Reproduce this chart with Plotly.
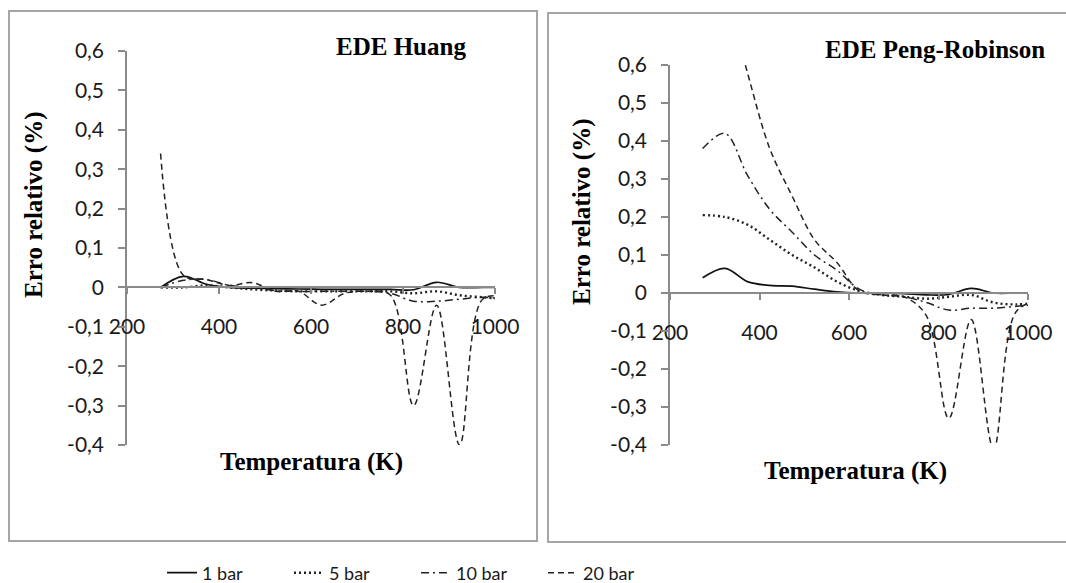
import plotly.graph_objects as go

# ---------------- data ----------------
temperature = [273, 323, 373, 423, 473, 523, 573, 623, 673, 723, 773, 823, 873, 923, 973, 1023]

huang_1bar = [0.000, 0.028, 0.008, 0.000, -0.002, -0.003, -0.004, -0.005, -0.005, -0.005, -0.005, -0.006, 0.013, 0.000, 0.000, 0.000]
huang_5bar = [0.000, 0.000, 0.005, 0.000, -0.005, -0.008, -0.010, -0.010, -0.010, -0.010, -0.010, -0.015, -0.010, -0.020, -0.025, -0.030]
huang_10bar = [0.000, 0.018, 0.020, 0.005, 0.000, -0.008, -0.010, -0.010, -0.010, -0.010, -0.015, -0.035, -0.035, -0.030, -0.025, -0.030]
huang_20bar = [0.340, 0.030, 0.020, 0.005, 0.012, -0.010, -0.010, -0.045, -0.015, -0.010, -0.020, -0.300, -0.045, -0.400, -0.030, -0.025]

pr_1bar = [0.040, 0.065, 0.030, 0.020, 0.018, 0.010, 0.003, 0.000, 0.000, -0.002, -0.005, -0.004, 0.012, 0.000, 0.000, 0.000]
pr_5bar = [0.205, 0.200, 0.180, 0.140, 0.100, 0.067, 0.030, 0.005, -0.005, -0.010, -0.015, -0.010, -0.005, -0.025, -0.030, -0.025]
pr_10bar = [0.380, 0.420, 0.310, 0.220, 0.160, 0.100, 0.060, 0.010, -0.005, -0.010, -0.025, -0.045, -0.040, -0.040, -0.035, -0.030]
pr_20bar = [0.950, 0.800, 0.580, 0.380, 0.255, 0.140, 0.080, 0.005, -0.005, -0.010, -0.060, -0.330, -0.070, -0.410, -0.050, -0.020]

series_names = ["1 bar", "5 bar", "10 bar", "20 bar"]

x_tickvals = [200, 400, 600, 800, 1000]
x_ticktext = ["200", "400", "600", "800", "1000"]
y_tickvals = [-0.4, -0.3, -0.2, -0.1, 0, 0.1, 0.2, 0.3, 0.4, 0.5, 0.6]
y_ticktext = ["-0,4", "-0,3", "-0,2", "-0,1", "0", "0,1", "0,2", "0,3", "0,4", "0,5", "0,6"]

panel_titles = ["EDE Huang", "EDE Peng-Robinson"]
x_title = "Temperatura (K)"
y_title = "Erro relativo (%)"

# ---------------- styling ----------------
W, H = 1066, 583
X_RANGE = [200, 1000]
Y_RANGE = [-0.4, 0.6]

def px_x(p):
    return p / W

def px_y(p):
    return 1 - p / H

line_styles = [
    dict(color="#111111", width=1.7, dash="solid"),
    dict(color="#222222", width=2.4, dash="2px,3px"),
    dict(color="#222222", width=1.5, dash="8px,4px,2px,4px"),
    dict(color="#222222", width=1.5, dash="6px,4px"),
]

fig = go.Figure()

huang = [huang_1bar, huang_5bar, huang_10bar, huang_20bar]
pr = [pr_1bar, pr_5bar, pr_10bar, pr_20bar]

for i, (name, vals) in enumerate(zip(series_names, huang)):
    fig.add_trace(go.Scatter(x=temperature, y=vals, name=name, mode="lines",
                             line=dict(shape="spline", smoothing=1.0, **line_styles[i]),
                             xaxis="x", yaxis="y", legendgroup=name, showlegend=True))
for i, (name, vals) in enumerate(zip(series_names, pr)):
    fig.add_trace(go.Scatter(x=temperature, y=vals, name=name, mode="lines",
                             line=dict(shape="spline", smoothing=1.0, **line_styles[i]),
                             xaxis="x2", yaxis="y2", legendgroup=name, showlegend=False))

axis_color = "#8a8a8a"
tick_font = dict(family="Lato", size=21, color="#1a1a1a")

def xaxis_cfg(domain, ydomain):
    frac = (0 - Y_RANGE[0]) / (Y_RANGE[1] - Y_RANGE[0])
    pos = ydomain[0] + frac * (ydomain[1] - ydomain[0])
    return dict(domain=domain, range=X_RANGE, anchor="free", position=pos,
                showline=True, linecolor=axis_color, linewidth=1.5,
                ticks="outside", ticklen=6, tickcolor=axis_color, tickwidth=1.5,
                tickvals=x_tickvals, ticktext=x_ticktext, tickfont=tick_font,
                ticklabelstandoff=15, showgrid=False, zeroline=False, fixedrange=True)

def yaxis_cfg(domain, anchor):
    return dict(domain=domain, range=Y_RANGE, anchor=anchor,
                showline=True, linecolor=axis_color, linewidth=1.5,
                ticks="outside", ticklen=7, tickcolor=axis_color, tickwidth=1.5,
                tickvals=y_tickvals, ticktext=y_ticktext, tickfont=tick_font,
                ticklabelstandoff=10, showgrid=False, zeroline=False, fixedrange=True)

yd1 = [px_y(445), px_y(51)]
yd2 = [px_y(445), px_y(65)]
xd1 = [px_x(127), px_x(495)]
xd2 = [px_x(670), px_x(1028)]

title_font = dict(family="Liberation Serif", size=25, color="#000000")

annotations = [
    dict(text="<b>%s</b>" % panel_titles[0], x=px_x(401), y=px_y(46), xref="paper", yref="paper",
         showarrow=False, font=title_font, xanchor="center", yanchor="middle"),
    dict(text="<b>%s</b>" % panel_titles[1], x=px_x(935), y=px_y(50), xref="paper", yref="paper",
         showarrow=False, font=title_font, xanchor="center", yanchor="middle"),
    dict(text="<b>%s</b>" % x_title, x=px_x(311), y=px_y(462), xref="paper", yref="paper",
         showarrow=False, font=title_font, xanchor="center", yanchor="middle"),
    dict(text="<b>%s</b>" % x_title, x=px_x(855), y=px_y(471), xref="paper", yref="paper",
         showarrow=False, font=title_font, xanchor="center", yanchor="middle"),
    dict(text="<b>%s</b>" % y_title, x=px_x(34), y=px_y(205), xref="paper", yref="paper",
         showarrow=False, font=title_font, textangle=-90, xanchor="center", yanchor="middle"),
    dict(text="<b>%s</b>" % y_title, x=px_x(582), y=px_y(212), xref="paper", yref="paper",
         showarrow=False, font=title_font, textangle=-90, xanchor="center", yanchor="middle"),
]

box_color = "#a6a6a6"
shapes = [
    dict(type="rect", xref="paper", yref="paper", x0=px_x(9), x1=px_x(537), y0=px_y(541), y1=px_y(11),
         line=dict(color=box_color, width=2), fillcolor="rgba(0,0,0,0)", layer="below"),
    dict(type="rect", xref="paper", yref="paper", x0=px_x(548), x1=px_x(1075), y0=px_y(542), y1=px_y(13),
         line=dict(color=box_color, width=2), fillcolor="rgba(0,0,0,0)", layer="below"),
]

fig.update_layout(
    width=W, height=H,
    margin=dict(l=0, r=0, t=0, b=0, autoexpand=False),
    paper_bgcolor="white", plot_bgcolor="white",
    xaxis=xaxis_cfg(xd1, yd1), yaxis=yaxis_cfg(yd1, "x"),
    xaxis2=xaxis_cfg(xd2, yd2), yaxis2=yaxis_cfg(yd2, "x2"),
    annotations=annotations, shapes=shapes,
    legend=dict(orientation="h", x=px_x(162), y=px_y(573), xanchor="left", yanchor="middle",
                font=dict(family="Lato", size=18, color="#1a1a1a"), bgcolor="rgba(0,0,0,0)",
                itemwidth=30, tracegroupgap=0, entrywidth=82, entrywidthmode="pixels"),
    showlegend=True,
)

fig.write_html("out.html")
